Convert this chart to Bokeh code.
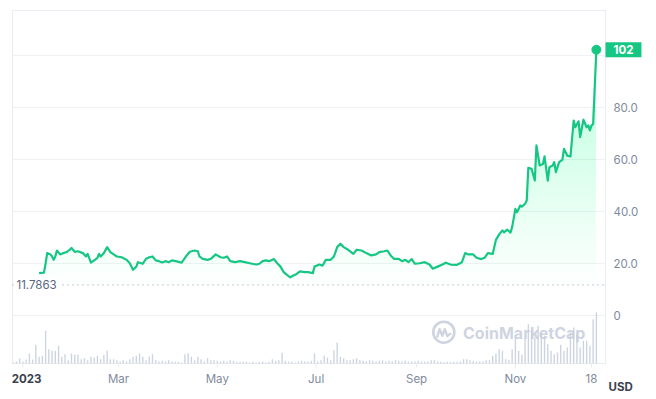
import numpy as np
from bokeh.plotting import figure
from bokeh.models import Range1d, Label
from bokeh.core.properties import value
from bokeh.embed import file_html
from bokeh.resources import INLINE

# ---------------- data (day 0 = 2023-01-01) ----------------
price_day = [10, 13, 14, 15, 17, 18, 19, 20, 21, 23, 25, 27, 29, 30, 32, 34, 37, 39, 40, 42,
             44, 46, 47, 48, 50, 52, 54, 56, 58, 61, 64, 66, 68, 70, 71, 74, 76, 78, 80, 82,
             84, 86, 88, 90, 92, 95, 98, 101, 103, 106, 108, 109, 111, 114, 116, 119, 122, 124, 126, 128,
             131, 134, 137, 140, 144, 146, 148, 150, 152, 155, 157, 159, 161, 163, 165, 167, 169, 171, 174, 176,
             179, 180, 183, 185, 187, 190, 192, 194, 196, 198, 200, 202, 204, 206, 209, 212, 215, 218, 220, 223,
             225, 227, 229, 232, 234, 236, 238, 240, 242, 245, 248, 251, 253, 256, 259, 261, 264, 268, 271, 273,
             275, 278, 280, 283, 285, 287, 290, 292, 294, 296, 297, 299, 301, 302, 304, 305, 307, 308, 310, 311,
             312, 314, 316, 317, 319, 321, 322, 324, 325, 327, 328, 329, 331, 333, 334, 336, 338, 340, 341, 343,
             344, 346, 348, 349, 350, 351, 352, 354]
price = [16.3, 16.5, 19.9, 24.0, 23.5, 22.7, 21.4, 22.7, 25.0, 23.5, 24.0, 24.4, 25.3, 26.0, 24.5, 24.7, 24.0, 22.7, 23.7, 20.3,
         21.2, 22.2, 23.7, 22.7, 24.0, 26.3, 24.4, 23.5, 22.7, 22.4, 21.4, 20.1, 17.6, 18.8, 20.5, 19.9, 21.8, 22.4, 22.7, 21.2,
         20.9, 20.4, 20.9, 20.5, 21.2, 20.8, 20.3, 23.0, 24.5, 25.0, 24.7, 22.7, 21.8, 21.4, 21.8, 23.5, 22.4, 22.2, 22.7, 20.9,
         20.5, 20.9, 20.5, 20.1, 19.6, 19.9, 20.9, 21.2, 20.9, 21.7, 20.1, 18.8, 16.7, 15.6, 14.7, 15.4, 16.0, 17.0, 16.7, 16.7,
         16.3, 18.8, 19.6, 19.2, 21.4, 21.4, 22.7, 26.3, 27.6, 26.3, 25.6, 24.7, 23.7, 25.3, 25.0, 24.0, 23.1, 23.5, 24.4, 24.7,
         25.0, 23.1, 21.8, 21.8, 20.9, 21.4, 20.5, 21.7, 19.9, 20.1, 20.5, 19.6, 18.0, 18.8, 19.6, 20.3, 19.6, 19.5, 20.5, 24.0,
         23.5, 23.5, 22.2, 21.7, 22.2, 24.0, 23.7, 29.1, 31.2, 32.7, 32.0, 33.0, 31.9, 34.0, 41.0, 39.7, 42.3, 41.9, 43.0, 44.2,
         56.8, 56.4, 51.9, 65.4, 57.7, 58.3, 61.2, 51.9, 57.0, 57.7, 59.0, 55.1, 59.0, 59.9, 64.1, 61.5, 61.2, 75.0, 72.4, 74.7,
         68.6, 75.3, 72.4, 73.1, 71.2, 73.1, 73.7, 102.2]

open_price = 11.7863

vol_first_day = -6
vol_days_apart = 2
volume_musd = [1, 2, 5, 2, 4, 10, 4, 18.7, 6.7, 7.7,
               32.7, 14.3, 12.7, 12.7, 17.7, 6.7, 9.3, 3.3, 10, 8.7,
               8.7, 4.3, 5.3, 3.3, 6.7, 6, 7.7, 4.3, 8.7, 12.7,
               4.3, 4.3, 3.3, 2, 3.3, 2, 4.3, 6.7, 7.7, 10,
               6.7, 3.3, 6.7, 9.3, 3.3, 2, 2.7, 2, 3.3, 2,
               1.7, 1.7, 1, 9.3, 10.3, 6.7, 3.3, 6.7, 4.3, 2,
               5.3, 3.3, 3.3, 2.7, 2, 2.7, 2, 3.3, 2.7, 1.7,
               1.7, 1.7, 1.7, 1, 1.7, 1, 1.7, 2, 1, 1.7,
               4.3, 2.7, 3.3, 10.7, 2.7, 2, 1.7, 1, 1.7, 2.7,
               2, 2, 2.7, 10, 2, 3.3, 7.7, 6, 3.3, 13.3,
               21, 6.7, 5.3, 3.3, 3.3, 4.3, 5.3, 3.3, 2.7, 2,
               3.3, 2.7, 2, 2.7, 3.3, 2, 2.7, 2, 3.3, 2.7,
               2, 2.7, 2, 2, 2, 2.7, 2, 2, 2, 3.3,
               3.3, 2, 1.7, 1.3, 1.7, 1.3, 1.7, 1.7, 2, 4.3,
               4.3, 3.3, 2.7, 2, 2, 2, 3.3, 3.3, 7.7, 10,
               14.3, 12.7, 4.3, 3.3, 14.3, 26, 12.7, 8.7, 25.3, 39.3,
               32.7, 26, 37.7, 30, 27.7, 19.3, 12.7, 9.3, 11, 18.7,
               12.7, 16, 31, 36, 29.3, 16, 22.7, 22.7, 17.7, 44.3,
               51]
vol_day = [vol_first_day + i * vol_days_apart for i in range(len(volume_musd))]

y_ticks = [0, 20, 40, 60, 80, 100]
y_tick_labels = ["0", "20.0", "40.0", "60.0", "80.0", ""]
x_ticks = [0, 59, 120, 181, 243, 304, 351]
x_tick_labels = ["2023", "Mar", "May", "Jul", "Sep", "Nov", "18"]
currency = "USD"

# ---------------- layout / styles ----------------
W, H = 648, 397
PX_PER_DAY = 1.62            # horizontal scale
PX_PER_UNIT = 2.6            # vertical scale of the price panel
DAY0_X, PRICE0_Y = 22.4, 315.0
VOL0_Y = 363.0               # volume baseline (bottom of the plot area)

def day_at(px):
    return (px - DAY0_X) / PX_PER_DAY

def price_at(py):
    return (PRICE0_Y - py) / PX_PER_UNIT

area_l, area_r = day_at(12), day_at(605)
area_t, area_b = price_at(10), price_at(VOL0_Y)

GREEN = "#16c784"
AXIS_TXT = "#808a9d"
BORDER = "#e9ecf0"
GRID = "#eff2f5"
DARK = "#3a4150"
FONT = value("Inter")
FS = value("11.5px")

p = figure(width=W, height=H, min_border=0,
           x_range=Range1d(day_at(0), day_at(W)), y_range=Range1d(price_at(H), price_at(0)),
           x_axis_location=None, y_axis_location=None,
           output_backend="svg", toolbar_location=None,
           background_fill_color="white", border_fill_color="white")
p.grid.visible = False
p.outline_line_color = None
p.extra_y_ranges = {"vol": Range1d(-(H - VOL0_Y), VOL0_Y)}

# horizontal grid lines (price ticks)
p.segment(x0=[area_l] * len(y_ticks), x1=[area_r] * len(y_ticks), y0=y_ticks, y1=y_ticks,
          line_color=GRID, line_width=1)

# plot-area border
p.quad(left=[area_l], right=[area_r], top=[area_t], bottom=[area_b],
       fill_color=None, line_color=BORDER, line_width=1)

# x ticks below the plot area
tick_len = 4 / PX_PER_UNIT
p.segment(x0=x_ticks, x1=x_ticks, y0=[area_b] * len(x_ticks), y1=[area_b - tick_len] * len(x_ticks),
          line_color=BORDER, line_width=1)

# volume bars
p.vbar(x=vol_day, top=volume_musd, bottom=0, width=0.85, y_range_name="vol",
       fill_color="#cdd4e1", line_color=None)

# gradient-like area fill between opening price and the price line
pd_arr = np.array(price_day, dtype=float)
pr_arr = np.array(price, dtype=float)
n_bands = 36
top_level = 105.0
for k in range(n_bands):
    lo = open_price + k * (top_level - open_price) / n_bands
    if pr_arr.max() <= lo:
        continue
    p.varea(x=pd_arr, y1=np.full_like(pr_arr, lo), y2=np.maximum(pr_arr, lo),
            fill_color=GREEN, fill_alpha=0.0075)

# opening price dotted line
p.segment(x0=[area_l], x1=[area_r], y0=[open_price], y1=[open_price],
          line_color="#a3acbd", line_dash="1 4", line_width=1.2)

# price line + end dot
p.line(pd_arr, pr_arr, line_color=GREEN, line_width=2.2, line_join="round")
p.scatter([price_day[-1]], [price[-1]], size=9, fill_color=GREEN, line_color=GREEN)

# watermark
WM = "#c6cddb"
wm_x, wm_y = day_at(443.3), price_at(331.7)
p.scatter([wm_x], [wm_y], size=21, fill_color=None, line_color=WM, line_width=2.6, line_alpha=0.85)
wave_px = [(-6.5, 4.5), (-4.2, -3.0), (-1.5, 3.5), (1.0, -3.0), (3.5, 4.0), (6.5, 1.5)]
p.line([wm_x + dx / PX_PER_DAY for dx, dy in wave_px], [wm_y - dy / PX_PER_UNIT for dx, dy in wave_px],
       line_color=WM, line_width=2.4, line_alpha=0.85, line_join="round", line_cap="round")
p.text(x=[day_at(462.5)], y=[price_at(332.5)], text=["CoinMarketCap"], text_align="left",
       text_baseline="middle", text_font=FONT, text_font_size=value("16px"), text_font_style="bold",
       text_color=WM, text_alpha=0.85)

# right-hand price tick labels
p.text(x=[day_at(613)] * len(y_ticks), y=y_ticks, text=y_tick_labels, text_align="left",
       text_baseline="middle", text_font=FONT, text_font_size=FS, text_color=AXIS_TXT)

# bottom date tick labels (first one bold)
lab_y = price_at(378)
p.text(x=x_ticks[1:], y=[lab_y] * (len(x_ticks) - 1), text=x_tick_labels[1:], text_align="center",
       text_baseline="middle", text_font=FONT, text_font_size=FS, text_color=AXIS_TXT)
p.text(x=[day_at(26)], y=[lab_y], text=[x_tick_labels[0]], text_align="center",
       text_baseline="middle", text_font=FONT, text_font_size=FS, text_font_style="bold", text_color=DARK)
p.text(x=[day_at(608)], y=[price_at(386)], text=[currency], text_align="left",
       text_baseline="middle", text_font=FONT, text_font_size=FS, text_font_style="bold", text_color=DARK)

# opening price label
p.add_layout(Label(x=day_at(14), y=open_price, text=f"{open_price}", text_align="left", text_baseline="middle",
                   text_font="Inter", text_font_size="11.5px", text_color="#58667e",
                   background_fill_color="white", background_fill_alpha=1.0,
                   padding=dict(left=2, right=4, top=2, bottom=2)))

# last price badge
p.add_layout(Label(x=area_r, y=price[-1], text=f"{price[-1]:.0f}", text_align="left", text_baseline="middle",
                   text_font="Inter", text_font_size="11.5px", text_font_style="bold", text_color="white",
                   background_fill_color=GREEN, padding=dict(left=8, right=8, top=3, bottom=3)))

open("out.html", "w").write(file_html(p, INLINE))
